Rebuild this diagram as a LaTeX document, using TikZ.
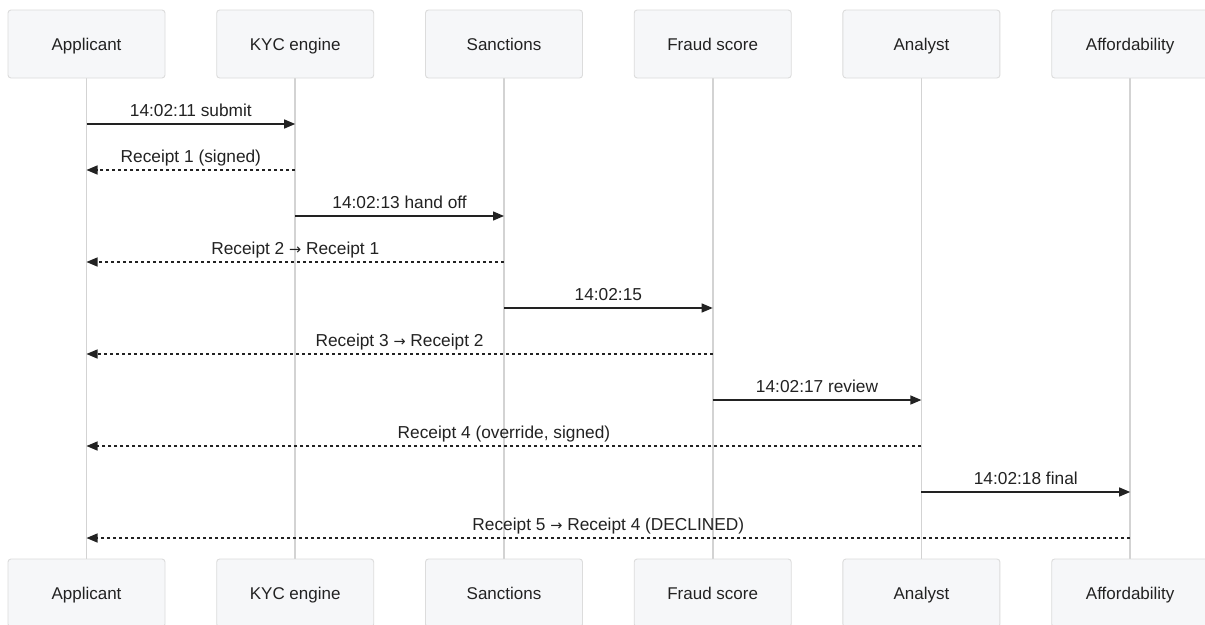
\documentclass[tikz,border=0pt]{standalone}
\usepackage{fontspec}
\setmainfont{Liberation Sans}
\newfontfamily\arrowfont{DejaVu Sans}
\newcommand{\ar}{{\arrowfont\fontsize{14.5}{16}\selectfont →}}
\usetikzlibrary{arrows.meta}
\definecolor{boxfill}{HTML}{F6F7F9}
\definecolor{boxline}{HTML}{DCDCDC}
\definecolor{lifeline}{HTML}{D3D3D3}
\definecolor{msg}{HTML}{222222}
\tikzset{
  actor/.style={draw=boxline, fill=boxfill, line width=0.9pt, rounded corners=3pt,
    minimum width=157pt, minimum height=68pt, inner sep=0pt, text=msg,
    text height=15pt, text depth=3pt,
    font=\fontsize{17}{19}\selectfont},
  life/.style={draw=lifeline, line width=1.8pt},
  call/.style={draw=msg, line width=1.3pt, -{Triangle[length=11pt,width=9pt]}},
  reply/.style={draw=msg, line width=1.3pt, dash pattern=on 3pt off 3pt, -{Triangle[length=11pt,width=9pt]}},
  lbl/.style={font=\fontsize{17.3}{19}\selectfont, text=msg, anchor=base, inner sep=0pt, yshift=8pt}
}
\begin{document}
\begin{tikzpicture}[x=1pt,y=-1pt]
\useasboundingbox (0,0) rectangle (1205,624);
\fill[white] (0,0) rectangle (1205,624);
\foreach \n/\x/\t in {a/86.5/Applicant,k/295.2/KYC engine,s/504/Sanctions,f/712.7/Fraud score,n/921.4/Analyst,d/1130.2/Affordability}{
  \draw[life] (\x,78) -- (\x,559);
  \node[actor] (\n t) at (\x,44) {\t};
  \node[actor] (\n b) at (\x,593) {\t};
}
\foreach \n/\x in {a/86.5,k/295.2,s/504,f/712.7,n/921.4,d/1130.2}{
  \foreach \i/\y in {1/124,2/170,3/216,4/262,5/308,6/354,7/400,8/446,9/492,10/538}{
    \coordinate (\n\i) at (\x,\y);
  }
}
\draw[call] (a1) -- node[lbl]{14:02:11 submit} (k1);
\draw[reply] (k2) -- node[lbl]{Receipt 1 (signed)} (a2);
\draw[call] (k3) -- node[lbl]{14:02:13 hand off} (s3);
\draw[reply] (s4) -- node[lbl]{Receipt 2 \ar{} Receipt 1} (a4);
\draw[call] (s5) -- node[lbl]{14:02:15} (f5);
\draw[reply] (f6) -- node[lbl]{Receipt 3 \ar{} Receipt 2} (a6);
\draw[call] (f7) -- node[lbl]{14:02:17 review} (n7);
\draw[reply] (n8) -- node[lbl]{Receipt 4 (override, signed)} (a8);
\draw[call] (n9) -- node[lbl]{14:02:18 final} (d9);
\draw[reply] (d10) -- node[lbl]{Receipt 5 \ar{} Receipt 4 (DECLINED)} (a10);
\end{tikzpicture}
\end{document}
